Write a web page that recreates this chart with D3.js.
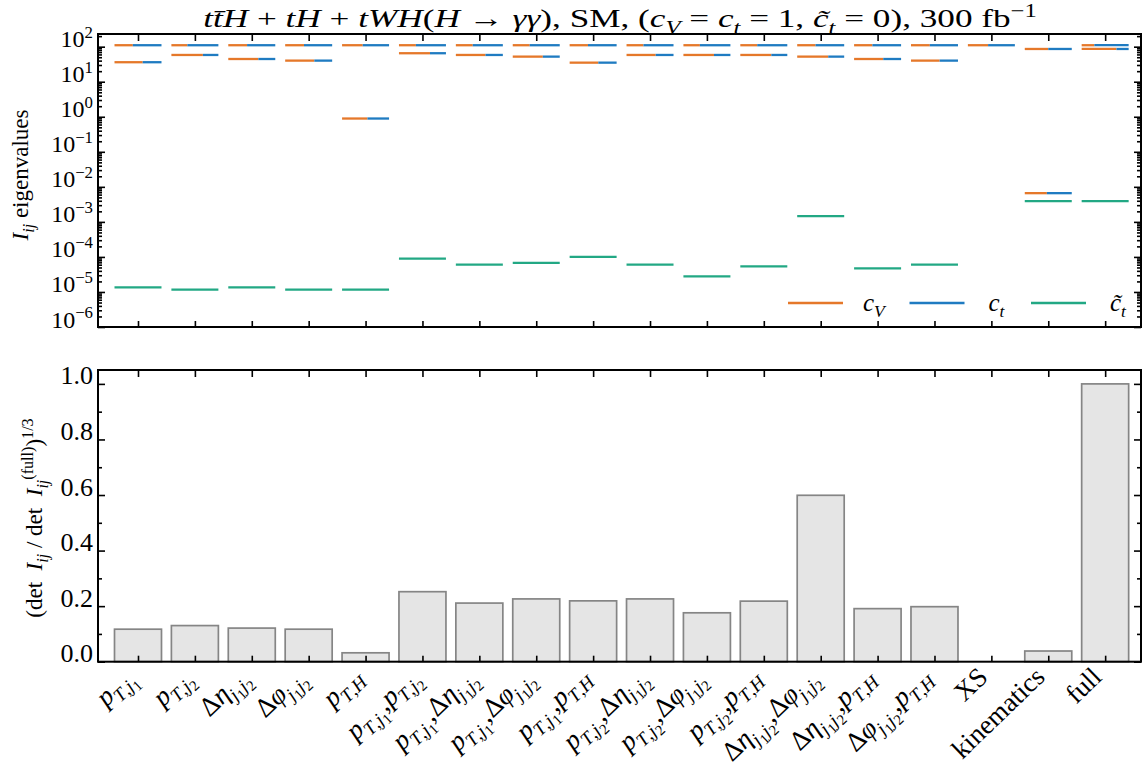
<!DOCTYPE html>
<html>
<head>
<meta charset="utf-8">
<script src="https://cdn.jsdelivr.net/npm/d3@7"></script>
<style>
  body { margin: 0; background: #fff; }
  svg { font-family: "Liberation Serif", "DejaVu Serif", serif; }
  text { white-space: pre; }
</style>
</head>
<body>
<svg width="1148" height="773"></svg>
<script>
// category labels, mini-TeX: _{} sub, ^{} sup, [..] upright text
var categories = [
    "p_{T,j_1}", "p_{T,j_2}", "Δη_{j_1j_2}", "Δφ_{j_1j_2}", "p_{T,H}",
    "p_{T,j_1},p_{T,j_2}", "p_{T,j_1},Δη_{j_1j_2}", "p_{T,j_1},Δφ_{j_1j_2}", "p_{T,j_1},p_{T,H}",
    "p_{T,j_2},Δη_{j_1j_2}", "p_{T,j_2},Δφ_{j_1j_2}", "p_{T,j_2},p_{T,H}",
    "Δη_{j_1j_2},Δφ_{j_1j_2}", "Δη_{j_1j_2},p_{T,H}", "Δφ_{j_1j_2},p_{T,H}",
    "[XS]", "[kinematics]", "[full]"
];

// eigenvalues of I_ij per category (null = not shown)
var eig1 = [110, 110, 110, 110, 110, 110, 110, 110, 110, 110, 110, 110, 110, 110, 110, 110, 86, 110];
var eig2 = [36, 58, 44.5, 40, 0.89, 65, 58, 52, 35, 58, 58, 58, 52, 44.5, 40, null, 0.0066, 86];
var eig3 = [1.35e-5, 1.17e-5, 1.35e-5, 1.17e-5, 1.17e-5, 8.9e-5, 6.0e-5, 6.8e-5, 1.0e-4, 6.0e-5,
            2.8e-5, 5.4e-5, 1.45e-3, 4.7e-5, 6.0e-5, null, 3.9e-3, 3.9e-3];
// c_V share of the eigenvector for eig1 / eig2 (rest is c_t), eig3 is pure c~_t
var cvShare1 = [0.39, 0.34, 0.40, 0.40, 0.44, 0.36, 0.36, 0.36, 0.39, 0.36, 0.35, 0.36, 0.39, 0.39, 0.40, 0.43, 0.50, 0.27];
var cvShare2 = [0.60, 0.67, 0.64, 0.62, 0.54, 0.66, 0.63, 0.64, 0.61, 0.62, 0.65, 0.66, 0.66, 0.62, 0.61, null, 0.47, 0.74];

// (det I / det I_full)^(1/3)
var detRatio = [0.117, 0.130, 0.121, 0.117, 0.032, 0.252, 0.211, 0.226, 0.219, 0.226,
                0.176, 0.218, 0.599, 0.191, 0.198, 0, 0.0385, 1.0];

var params = ["c_V", "c_t", "c̃_t"];
var logTicks = [1e-6, 1e-5, 1e-4, 1e-3, 1e-2, 1e-1, 1, 10, 100];
var logTickLabels = ["10^{−6}", "10^{−5}", "10^{−4}", "10^{−3}", "10^{−2}", "10^{−1}", "10^{0}", "10^{1}", "10^{2}"];
var barTicks = [0, 0.2, 0.4, 0.6, 0.8, 1.0];

var colors = ["#e5782a", "#1f7bc1", "#22a884"];

var svg = d3.select("svg");
var left = 98, right = 1141;
var top1 = 34, bot1 = 327, top2 = 370, bot2 = 661.7;

var x = d3.scaleLinear().domain([-0.703, 17.63]).range([left, right]);
var yLog = d3.scaleLog().domain([1e-6, 230]).range([bot1, top1]);
var yBar = d3.scaleLinear().domain([0, 1.05]).range([bot2, top2]);
var halfW = 0.413;

// mini-TeX to tspans
function parse(str, lvl, roman, out) {
    var buf = "";
    function flush() {
        if (!buf) return;
        var runs = buf.match(/[A-Za-zα-ω][A-Za-zα-ω\u0300-\u036f]*|[^A-Za-zα-ω]+/g) || [];
        runs.forEach(function(r) {
            var it = !roman && /^[A-Za-zα-ω]/.test(r);
            out.push({t: r, lvl: lvl, i: it});
        });
        buf = "";
    }
    var i = 0;
    while (i < str.length) {
        var c = str[i];
        if (c == "_" || c == "^") {
            flush();
            var nl = c == "_" ? (lvl >= 1 ? lvl + 1 : 1) : -1;
            if (str[i + 1] == "{") {
                var depth = 1, j = i + 2;
                while (depth > 0) { if (str[j] == "{") depth++; if (str[j] == "}") depth--; j++; }
                parse(str.slice(i + 2, j - 1), nl, roman, out);
                i = j;
            } else {
                parse(str[i + 1], nl, roman, out);
                i += 2;
            }
        } else if (c == "[") {
            flush(); roman = true; i++;
        } else if (c == "]") {
            flush(); roman = false; i++;
        } else { buf += c; i++; }
    }
    flush();
    return out;
}

function rich(sel, str, size) {
    var parts = parse(str, 0, false, []);
    var shift = {0: 0, 1: 0.25, 2: 0.4, "-1": -0.4};
    var scale = {0: 1, 1: 0.7, 2: 0.55, "-1": 0.7};
    var off = 0;
    parts.forEach(function(p) {
        var target = shift[p.lvl] * size;
        sel.append("tspan")
            .attr("dy", target - off)
            .attr("font-size", size * scale[p.lvl])
            .attr("font-style", p.i ? "italic" : "normal")
            .text(p.t);
        off = target;
    });
}

// title, with TeX-like spaces round the operators, stretched to the reference width
var op = function(s) { return " " + s + " "; };
var title = svg.append("text")
    .attr("text-anchor", "middle");
rich(title, "tt̄H" + op("+") + "tH" + op("+") + "tWH(H" + op("→") + "γγ), [SM], (c_V" + op("=") + "c_t" + op("=") +
     "1, c̃_t" + op("=") + "0), 300 [fb]^{−1}", 26);
var natural = title.node().getComputedTextLength();
title.attr("transform", "translate(620,27) scale(" + (834 / natural) + ",1)");

// ---------- top panel ----------
var g1 = svg.append("g");
var cats = d3.range(categories.length);

function segments(values, shares) {
    var out = [];
    values.forEach(function(v, i) {
        if (v == null) return;
        var sh = shares ? [shares[i], 1 - shares[i], 0] : [0, 0, 1];
        var start = i - halfW;
        sh.forEach(function(s, k) {
            if (s <= 0) return;
            out.push({x0: start, x1: start + s * 2 * halfW, v: v, k: k});
            start += s * 2 * halfW;
        });
    });
    return out;
}
var segs = segments(eig1, cvShare1).concat(segments(eig2, cvShare2)).concat(segments(eig3, null));

g1.append("g").selectAll("line")
    .data(segs)
    .enter()
    .append("line")
    .attr("x1", function(d) { return x(d.x0); })
    .attr("x2", function(d) { return x(d.x1); })
    .attr("y1", function(d) { return yLog(d.v); })
    .attr("y2", function(d) { return yLog(d.v); })
    .attr("stroke", function(d) { return colors[d.k]; })
    .attr("stroke-width", 2.3);

// log minor ticks
var minor = [];
for (var e = -6; e < 3; e++) for (var m = 2; m < 10; m++) {
    var v = m * Math.pow(10, e);
    if (v < 230) minor.push(v);
}

function yAxes(g, scale, majors, minors, fmt, size) {
    var ax = g.append("g").attr("transform", "translate(" + left + ",0)")
        .call(d3.axisLeft(scale).tickValues(majors).tickSizeInner(-7).tickSizeOuter(0).tickPadding(5).tickFormat(function() { return ""; }));
    ax.attr("font-family", null).attr("font-size", null);
    ax.selectAll(".tick text").each(function(d, i) {
        var t = d3.select(this).attr("fill", "#000");
        rich(t, fmt(d, i), size);
    }).attr("dy", "0.35em");
    g.append("g").attr("transform", "translate(" + left + ",0)")
        .call(d3.axisLeft(scale).tickValues(minors).tickSizeInner(-4).tickSizeOuter(0).tickFormat(""));
    g.append("g").attr("transform", "translate(" + right + ",0)")
        .call(d3.axisRight(scale).tickValues(majors).tickSizeInner(-7).tickSizeOuter(0).tickFormat(""));
    g.append("g").attr("transform", "translate(" + right + ",0)")
        .call(d3.axisRight(scale).tickValues(minors).tickSizeInner(-4).tickSizeOuter(0).tickFormat(""));
    g.selectAll(".domain").remove();
    g.selectAll(".tick line").attr("stroke", "#000").attr("stroke-width", 1.6);
}

function xAxes(g, yTop, yBot) {
    g.append("g").attr("transform", "translate(0," + yTop + ")")
        .call(d3.axisTop(x).tickValues(cats).tickSizeInner(-7).tickSizeOuter(0).tickFormat(""));
    g.append("g").attr("transform", "translate(0," + yBot + ")")
        .call(d3.axisBottom(x).tickValues(cats).tickSizeInner(-6).tickSizeOuter(0).tickFormat(""));
    g.selectAll(".domain").remove();
    g.selectAll(".tick line").attr("stroke", "#000").attr("stroke-width", 1.6);
}

yAxes(g1.append("g"), yLog, logTicks, minor, function(d, i) { return logTickLabels[i]; }, 24);
xAxes(g1.append("g"), top1, bot1);

g1.append("rect")
    .attr("x", left).attr("y", top1)
    .attr("width", right - left).attr("height", bot1 - top1)
    .attr("fill", "none").attr("stroke", "#000").attr("stroke-width", 2);

// legend
var legend = g1.append("g").selectAll("g")
    .data(params)
    .enter()
    .append("g")
    .attr("transform", function(d, i) { return "translate(" + (788 + i * 121.5) + ",303)"; });
legend.append("line")
    .attr("x1", 0).attr("x2", 55)
    .attr("stroke", function(d, i) { return colors[i]; })
    .attr("stroke-width", 2.3);
legend.append("text")
    .attr("x", function(d, i) { return i == 0 ? 75 : 79; })
    .attr("y", 8)
    .each(function(d) { rich(d3.select(this), d, 25); });

var yl1 = svg.append("text")
    .attr("transform", "translate(28,175) rotate(-90)")
    .attr("text-anchor", "middle");
rich(yl1, "I_{ij} [eigenvalues]", 23);

// ---------- bottom panel ----------
var g2 = svg.append("g");

g2.append("g").selectAll("rect")
    .data(detRatio.map(function(v, i) { return {v: v, i: i}; }).filter(function(d) { return d.v > 0; }))
    .enter()
    .append("rect")
    .attr("x", function(d) { return x(d.i - halfW); })
    .attr("width", x(2 * halfW) - x(0))
    .attr("y", function(d) { return yBar(d.v); })
    .attr("height", function(d) { return yBar(0) - yBar(d.v); })
    .attr("fill", "#e5e5e5")
    .attr("stroke", "#858585")
    .attr("stroke-width", 1.7);

yAxes(g2.append("g"), yBar, barTicks, [0.1, 0.3, 0.5, 0.7, 0.9],
      function(d) { return d3.format(".1f")(d); }, 26);
xAxes(g2.append("g"), top2, bot2);

g2.append("rect")
    .attr("x", left).attr("y", top2)
    .attr("width", right - left).attr("height", bot2 - top2)
    .attr("fill", "none").attr("stroke", "#000").attr("stroke-width", 2);

var yl2 = svg.append("text")
    .attr("transform", "translate(42,518) rotate(-90)")
    .attr("text-anchor", "middle");
rich(yl2, "([det]  I_{ij} / [det]  I_{ij}^{([full])})^{1/3}", 23);

// category labels
g2.append("g").selectAll("text")
    .data(categories)
    .enter()
    .append("text")
    .attr("text-anchor", "end")
    .attr("transform", function(d, i) { return "translate(" + (x(i) - 2) + "," + (bot2 + 17) + ") rotate(-44)"; })
    .each(function(d) { rich(d3.select(this), d, 27); });
</script>
</body>
</html>
